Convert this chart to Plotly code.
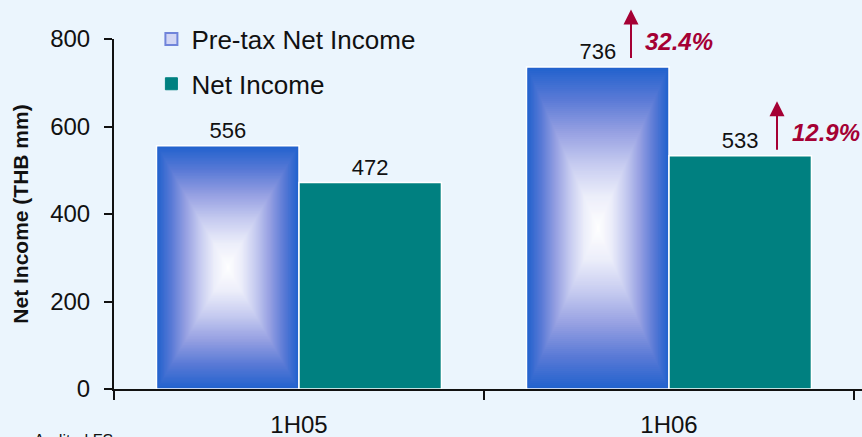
import plotly.graph_objects as go

# ---- data -------------------------------------------------------------
periods = ["1H05", "1H06"]
pretax_income = [556, 736]
net_income = [472, 533]
growth_labels = ["32.4%", "12.9%"]

# ---- styling ----------------------------------------------------------
FONT = "Liberation Sans, Arial, sans-serif"
BG = "#EBF5FD"
TEAL = "#008080"
EDGE_BLUE = (34, 98, 205)
ACCENT = "#A50034"
BAR_W = 0.385          # width of one bar in category units

# colour stops for the centre-out box gradient on the pre-tax bars
# (s = 1 at the bar edge, s = 0 at the bar centre)
GRAD_STOPS = [
    (1.00, EDGE_BLUE),
    (0.80, (90, 122, 214)),
    (0.60, (150, 160, 226)),
    (0.40, (198, 203, 240)),
    (0.20, (236, 238, 250)),
    (0.00, (255, 255, 255)),
]


def grad_colour(s):
    for (s_hi, c_hi), (s_lo, c_lo) in zip(GRAD_STOPS[:-1], GRAD_STOPS[1:]):
        if s_lo <= s <= s_hi:
            t = (s - s_lo) / (s_hi - s_lo)
            rgb = [round(a + (b - a) * t) for a, b in zip(c_lo, c_hi)]
            return "rgb({},{},{})".format(*rgb)
    return "rgb(255,255,255)"


fig = go.Figure()

fig.add_trace(go.Bar(
    x=periods, y=pretax_income, name="Pre-tax Net Income",
    width=BAR_W, offset=-BAR_W,
    marker=dict(color="rgb({},{},{})".format(*EDGE_BLUE),
                line=dict(color="white", width=1.5)),
    text=[str(v) for v in pretax_income], textposition="outside",
    textfont=dict(size=22, color="#111111", family=FONT),
    cliponaxis=False, showlegend=False,
))
fig.add_trace(go.Bar(
    x=periods, y=net_income, name="Net Income",
    width=BAR_W, offset=0,
    marker=dict(color=TEAL, line=dict(color="white", width=1.5)),
    text=[str(v) for v in net_income], textposition="outside",
    textfont=dict(size=22, color="#111111", family=FONT),
    cliponaxis=False, showlegend=False,
))

# legend swatches
fig.add_trace(go.Scatter(
    x=[None], y=[None], mode="markers", name="Pre-tax Net Income",
    legendgroup="a",
    marker=dict(symbol="square", size=12, color="#D2D6F4",
                line=dict(color="#7084DA", width=2)),
))
fig.add_trace(go.Scatter(
    x=[None], y=[None], mode="markers", name="Net Income",
    legendgroup="b",
    marker=dict(symbol="square", size=12, color=TEAL,
                line=dict(color=TEAL, width=1)),
))

# box gradient: nested rectangles shrinking towards each pre-tax bar's centre
N_STEPS = 80
shapes = []
for i, v in enumerate(pretax_income):
    cx = i - BAR_W / 2
    hw = BAR_W / 2
    cy = v / 2
    hh = v / 2
    for k in range(1, N_STEPS + 1):
        s = 1 - k / N_STEPS
        s_outer = 1 - (k - 0.5) / N_STEPS
        shapes.append(dict(
            type="rect", xref="x", yref="y", layer="above",
            x0=cx - s_outer * hw + 0.002, x1=cx + s_outer * hw - 0.002,
            y0=cy - s_outer * hh + 1.5, y1=cy + s_outer * hh - 1.5,
            fillcolor=grad_colour(s), line=dict(width=0),
        ))

# growth arrows and percentages above the 1H06 bars
annotations = []
arrow_specs = [
    # (value, x-shift of arrow, y-shift of arrow base, x-shift of label, label lift)
    (pretax_income[1], -38, 9, -26, 26),
    (net_income[1], 108, 6, 121, 23),
]
for (v, ax_shift, base_lift, lbl_shift, lbl_lift), lbl in zip(arrow_specs, growth_labels):
    annotations.append(dict(
        x=periods[1], y=v, xref="x", yref="y", text="",
        xshift=ax_shift, yshift=base_lift,
        showarrow=True, ax=0, ay=-50, arrowside="start",
        startarrowhead=2, startarrowsize=1.5, arrowwidth=2, arrowcolor=ACCENT,
        standoff=0, startstandoff=0,
    ))
    annotations.append(dict(
        x=periods[1], y=v, xref="x", yref="y",
        text="<b><i>{}</i></b>".format(lbl),
        xshift=lbl_shift, yshift=lbl_lift, xanchor="left", yanchor="middle",
        showarrow=False, font=dict(size=24, color=ACCENT, family=FONT),
    ))

annotations.append(dict(
    x=-0.11, y=-0.117, xref="paper", yref="paper", xanchor="left", yanchor="top",
    text="Audited FS", showarrow=False,
    font=dict(size=16, color="#111111", family=FONT),
))

fig.update_layout(
    width=862, height=437,
    margin=dict(l=114, r=0, t=39, b=48),
    paper_bgcolor=BG, plot_bgcolor=BG,
    font=dict(family=FONT, color="#111111"),
    barmode="group",
    shapes=shapes, annotations=annotations,
    legend=dict(
        x=0.05, y=1.067, xanchor="left", yanchor="top",
        bgcolor="rgba(0,0,0,0)", font=dict(size=26, family=FONT, color="#111111"),
        traceorder="grouped", tracegroupgap=8,
    ),
    xaxis=dict(
        type="category", categoryorder="array", categoryarray=periods,
        tickson="boundaries", ticks="outside", ticklen=9, tickwidth=2,
        tickcolor="#111111", showline=True, linecolor="#111111", linewidth=2,
        showgrid=False, tickfont=dict(size=24, family=FONT),
        ticklabelstandoff=13,
    ),
    yaxis=dict(
        range=[0, 800], dtick=200, ticks="outside", ticklen=8, tickwidth=2,
        tickcolor="#111111", showline=True, linecolor="#111111", linewidth=2,
        showgrid=False, zeroline=False, tickfont=dict(size=24, family=FONT),
        ticklabelstandoff=9,
        title=dict(text="<b>Net Income (THB mm)</b>", standoff=16,
                   font=dict(size=21, family=FONT)),
    ),
)

fig.write_html("out.html")
